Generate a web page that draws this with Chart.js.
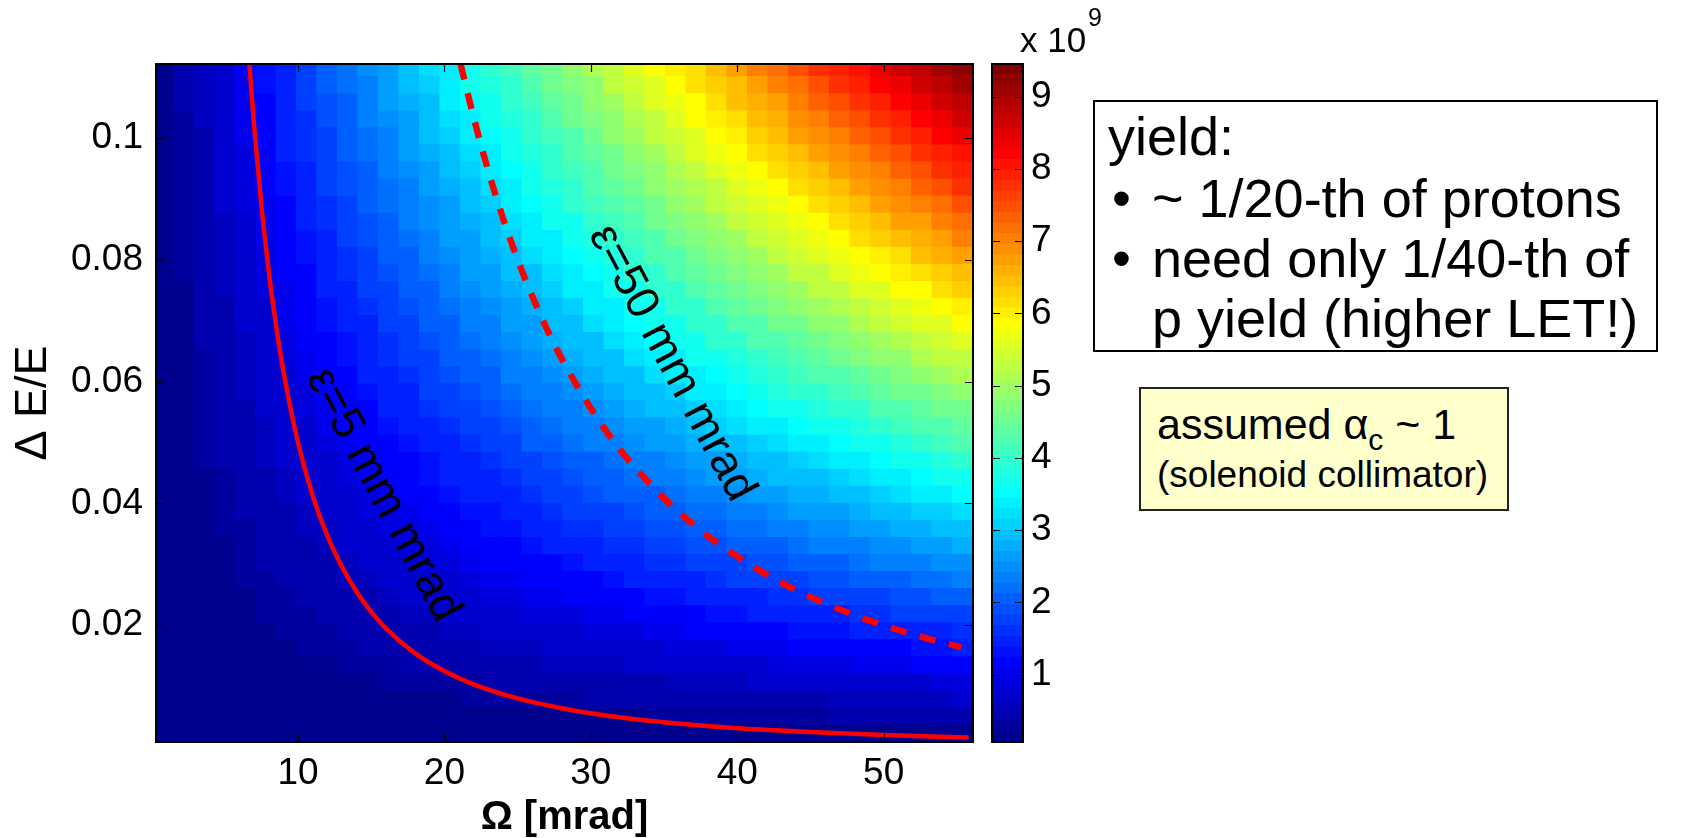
<!DOCTYPE html>
<html>
<head>
<meta charset="utf-8">
<script src="https://cdn.jsdelivr.net/npm/chart.js@4.4.1/dist/chart.umd.min.js"></script>
<style>
html,body{margin:0;padding:0;background:#fff;}
body{width:1688px;height:838px;position:relative;overflow:hidden;font-family:'Liberation Sans',Arial,Helvetica,sans-serif;color:#000;}
canvas{position:absolute;top:0;}
#main{left:0;width:990px;height:838px;}
#cbar{left:960px;width:200px;height:838px;}
.ln{position:absolute;white-space:nowrap;line-height:1;}
.b1{font-size:54px;}
#box1{position:absolute;left:1093px;top:100px;width:565px;height:252px;border:2px solid #000;box-sizing:border-box;}
#box2{position:absolute;left:1139px;top:387px;width:370px;height:124px;border:2px solid #222;box-sizing:border-box;background:#ffffcc;}
</style>
</head>
<body>
<canvas id="main" width="990" height="838"></canvas>
<canvas id="cbar" width="200" height="838"></canvas>

<div class="ln" style="left:1020px;top:22px;font-size:35px;">x 10</div>
<div class="ln" style="left:1088px;top:5px;font-size:25px;">9</div>

<div id="box1"></div>
<div class="ln b1" style="left:1108px;top:109px;">yield:</div>
<div class="ln b1" style="left:1112px;top:171px;">•</div>
<div class="ln b1" style="left:1152px;top:171px;">~ 1/20-th of protons</div>
<div class="ln b1" style="left:1112px;top:231px;">•</div>
<div class="ln b1" style="left:1152px;top:231px;">need only 1/40-th of</div>
<div class="ln b1" style="left:1152px;top:291px;">p yield (higher LET!)</div>

<div id="box2"></div>
<div class="ln" style="left:1157px;top:403px;font-size:43px;">assumed α<span style="font-size:30px;position:relative;top:11px;">c</span> ~ 1</div>
<div class="ln" style="left:1157px;top:456px;font-size:37px;">(solenoid collimator)</div>

<script>
// ---------------- data ----------------
// Heat-map cell centres
const omegaCenters = [0.8,2.2,3.6,5.0,6.4,7.8,9.2,10.6,12.0,13.4,14.8,16.2,17.6,19.0,20.4,21.8,23.2,24.6,26.0,27.4,
  28.8,30.2,31.6,33.0,34.4,35.8,37.2,38.6,40.0,41.4,42.8,44.2,45.6,47.0,48.4,49.8,51.2,52.6,54.0,55.4];
const deltaCenters = [0.0022,0.0050,0.0078,0.0106,0.0134,0.0162,0.0190,0.0218,0.0246,0.0274,0.0302,0.0330,0.0358,0.0386,
  0.0414,0.0442,0.0470,0.0498,0.0526,0.0554,0.0582,0.0610,0.0638,0.0666,0.0694,0.0722,0.0750,0.0778,0.0806,0.0834,
  0.0862,0.0890,0.0918,0.0946,0.0974,0.1002,0.1030,0.1058,0.1086,0.1114];
// Yield per cell, in units of 1e8 (rows from lowest dE/E to highest, columns from lowest Omega to highest)
const yieldE8 = [
 [0,0,0,0,0,0,0,0,0,0, 0,1,1,1,1,1,1,1,1,1, 1,1,1,1,1,1,1,1,1,1, 1,1,2,2,2,2,2,2,2,2],
 [0,0,0,0,0,1,1,1,1,1, 1,1,1,1,2,2,2,2,2,2, 2,2,2,2,3,3,3,3,3,3, 3,3,3,4,4,4,4,4,4,4],
 [0,0,0,1,1,1,1,1,1,2, 2,2,2,2,2,3,3,3,3,3, 3,4,4,4,4,4,4,5,5,5, 5,5,5,6,6,6,6,6,6,7],
 [0,0,1,1,1,1,1,2,2,2, 2,3,3,3,3,3,4,4,4,4, 5,5,5,5,5,6,6,6,6,7, 7,7,7,8,8,8,8,8,9,9],
 [0,0,1,1,1,2,2,2,2,3, 3,3,4,4,4,4,5,5,5,6, 6,6,6,7,7,7,8,8,8,8, 9,9,9,9,10,10,10,11,11,11],
 [0,1,1,1,2,2,2,3,3,3, 4,4,4,5,5,5,6,6,6,7, 7,7,8,8,8,9,9,9,10,10, 10,11,11,11,12,12,12,13,13,14],
 [0,1,1,1,2,2,3,3,3,4, 4,5,5,5,6,6,7,7,7,8, 8,9,9,9,10,10,11,11,11,12, 12,13,13,13,14,14,15,15,15,16],
 [0,1,1,2,2,3,3,3,4,4, 5,5,6,6,7,7,8,8,9,9, 9,10,10,11,11,12,12,13,13,14, 14,15,15,15,16,16,17,17,18,18],
 [0,1,1,2,2,3,3,4,4,5, 5,6,7,7,8,8,9,9,10,10, 11,11,12,12,13,13,14,14,15,15, 16,16,17,17,18,18,19,19,20,21],
 [0,1,1,2,3,3,4,4,5,6, 6,7,7,8,8,9,10,10,11,11, 12,12,13,14,14,15,15,16,17,17, 18,18,19,19,20,21,21,22,22,23],
 [0,1,2,2,3,4,4,5,5,6, 7,7,8,9,9,10,11,11,12,12, 13,14,14,15,16,16,17,18,18,19, 19,20,21,21,22,23,23,24,25,25],
 [0,1,2,2,3,4,5,5,6,7, 7,8,9,9,10,11,12,12,13,14, 14,15,16,16,17,18,19,19,20,21, 21,22,23,23,24,25,25,26,27,28],
 [0,1,2,3,3,4,5,6,6,7, 8,9,9,10,11,12,13,13,14,15, 16,16,17,18,19,19,20,21,22,22, 23,24,25,25,26,27,28,28,29,30],
 [0,1,2,3,4,5,5,6,7,8, 9,9,10,11,12,13,13,14,15,16, 17,18,18,19,20,21,22,22,23,24, 25,26,27,27,28,29,30,31,31,32],
 [0,1,2,3,4,5,6,7,7,8, 9,10,11,12,13,14,14,15,16,17, 18,19,20,21,21,22,23,24,25,26, 27,28,28,29,30,31,32,33,34,35],
 [1,1,2,3,4,5,6,7,8,9, 10,11,12,13,14,15,15,16,17,18, 19,20,21,22,23,24,25,26,27,28, 29,29,30,31,32,33,34,35,36,37],
 [1,2,3,4,5,6,7,8,8,9, 10,11,12,13,14,15,16,17,18,19, 20,21,22,23,24,25,26,27,28,29, 30,31,32,33,34,35,36,37,38,39],
 [1,2,3,4,5,6,7,8,9,10, 11,12,13,14,15,16,17,18,20,21, 22,23,24,25,26,27,28,29,30,31, 32,33,34,35,36,37,38,39,41,42],
 [1,2,3,4,5,6,7,8,10,11, 12,13,14,15,16,17,18,19,21,22, 23,24,25,26,27,28,29,31,32,33, 34,35,36,37,38,39,41,42,43,44],
 [1,2,3,4,5,7,8,9,10,11, 12,14,15,16,17,18,19,21,22,23, 24,25,26,28,29,30,31,32,33,35, 36,37,38,39,40,42,43,44,45,46],
 [1,2,3,4,6,7,8,9,11,12, 13,14,15,17,18,19,20,22,23,24, 25,26,28,29,30,31,33,34,35,36, 38,39,40,41,42,44,45,46,47,49],
 [1,2,3,5,6,7,8,10,11,12, 14,15,16,17,19,20,21,23,24,25, 26,28,29,30,32,33,34,35,37,38, 39,41,42,43,44,46,47,48,50,51],
 [1,2,3,5,6,7,9,10,12,13, 14,16,17,18,20,21,22,24,25,26, 28,29,30,32,33,34,36,37,38,40, 41,42,44,45,47,48,49,51,52,53],
 [1,2,4,5,6,8,9,11,12,13, 15,16,18,19,20,22,23,25,26,28, 29,30,32,33,35,36,37,39,40,42, 43,44,46,47,49,50,51,53,54,56],
 [1,2,4,5,7,8,10,11,13,14, 15,17,18,20,21,23,24,26,27,29, 30,32,33,35,36,37,39,40,42,43, 45,46,48,49,51,52,54,55,56,58],
 [1,2,4,5,7,8,10,12,13,15, 16,18,19,21,22,24,25,27,28,30, 31,33,34,36,37,39,40,42,44,45, 47,48,50,51,53,54,56,57,59,60],
 [1,2,4,6,7,9,10,12,14,15, 17,18,20,21,23,25,26,28,29,31, 33,34,36,37,39,40,42,44,45,47, 48,50,52,53,55,56,58,59,61,63],
 [1,3,4,6,8,9,11,12,14,16, 17,19,21,22,24,26,27,29,30,32, 34,35,37,39,40,42,44,45,47,49, 50,52,53,55,57,58,60,62,63,65],
 [1,3,4,6,8,9,11,13,15,16, 18,20,21,23,25,26,28,30,32,33, 35,37,38,40,42,43,45,47,49,50, 52,54,55,57,59,60,62,64,66,67],
 [1,3,5,6,8,10,12,13,15,17, 19,20,22,24,26,27,29,31,33,34, 36,38,40,41,43,45,47,49,50,52, 54,56,57,59,61,63,64,66,68,70],
 [1,3,5,6,8,10,12,14,16,17, 19,21,23,25,26,28,30,32,34,36, 37,39,41,43,45,47,48,50,52,54, 56,57,59,61,63,65,67,68,70,72],
 [1,3,5,7,9,10,12,14,16,18, 20,22,24,25,27,29,31,33,35,37, 39,41,42,44,46,48,50,52,54,56, 57,59,61,63,65,67,69,71,72,74],
 [1,3,5,7,9,11,13,15,17,19, 20,22,24,26,28,30,32,34,36,38, 40,42,44,46,48,50,51,53,55,57, 59,61,63,65,67,69,71,73,75,77],
 [1,3,5,7,9,11,13,15,17,19, 21,23,25,27,29,31,33,35,37,39, 41,43,45,47,49,51,53,55,57,59, 61,63,65,67,69,71,73,75,77,79],
 [1,3,5,7,9,11,14,16,18,20, 22,24,26,28,30,32,34,36,38,40, 42,44,46,48,50,53,55,57,59,61, 63,65,67,69,71,73,75,77,79,81],
 [1,3,5,8,10,12,14,16,18,20, 22,24,27,29,31,33,35,37,39,41, 43,46,48,50,52,54,56,58,60,63, 65,67,69,71,73,75,77,79,82,84],
 [1,3,6,8,10,12,14,16,19,21, 23,25,27,29,32,34,36,38,40,43, 45,47,49,51,53,56,58,60,62,64, 66,69,71,73,75,77,79,82,84,86],
 [1,4,6,8,10,12,15,17,19,21, 24,26,28,30,33,35,37,39,41,44, 46,48,50,53,55,57,59,62,64,66, 68,70,73,75,77,79,82,84,86,88],
 [1,4,6,8,10,13,15,17,20,22, 24,27,29,31,33,36,38,40,43,45, 47,49,52,54,56,59,61,63,65,68, 70,72,75,77,79,82,84,86,88,91],
 [1,4,6,8,11,13,15,18,20,22, 25,27,30,32,34,37,39,41,44,46, 48,51,53,55,58,60,62,65,67,70, 72,74,77,79,81,84,86,88,91,93]
];
// Emittance curves (Omega [mrad], dE/E)
const eps5Omega = [6.68,7.0,7.5,8.0,8.5,9.0,10,11,12,13,14,15,16,18,20,22,25,28,31,35,40,45,50,55.8];
const eps5Delta = [0.1121,0.102,0.0889,0.0781,0.0692,0.0617,0.05,0.0413,0.0347,0.0296,0.0255,0.0222,0.0195,0.0154,0.0125,0.0103,0.0080,0.0064,0.0052,0.0041,0.0031,0.0025,0.0020,0.0016];
const eps50Omega = [21.1,22,23,24,25,26,27,28,30,32,34,36,38,40,43,46,49,52,55.3];
const eps50Delta = [0.1121,0.1033,0.0945,0.0868,0.080,0.074,0.0686,0.0638,0.0556,0.0488,0.0433,0.0386,0.0346,0.0313,0.0270,0.0236,0.0208,0.0185,0.0164];
const curveLabels = ['ε=5 mm mrad', 'ε=50 mm mrad'];
// Tick labels
const omegaTicks = [10,20,30,40,50];
const deltaTicks = [0.02,0.04,0.06,0.08,0.1];
const colorTicks = [1,2,3,4,5,6,7,8,9];
const colorLimits = [0.07, 9.45];   // x 1e9
const omegaLimits = [0.3, 56.1];
const deltaLimits = [0.00085, 0.1121];

// ---------------- styling / helpers ----------------
const FONT = "'Liberation Sans', Arial, Helvetica, sans-serif";
Chart.defaults.font.family = FONT;
Chart.defaults.color = '#000';

function jet(k){ // MATLAB jet(64)
  const r = k<24?0 : k<40?(k-23)/16 : k<56?1 : 1-(k-55)/16;
  const g = k<8?0 : k<24?(k-7)/16 : k<40?1 : k<56?1-(k-39)/16 : 0;
  const b = k<8?0.5+(k+1)/16 : k<24?1 : k<40?1-(k-23)/16 : 0;
  return 'rgb(' + Math.round(r*255) + ',' + Math.round(g*255) + ',' + Math.round(b*255) + ')';
}
const jet64 = Array.from({length:64}, (_, k) => jet(k));
function colorFor(v){
  let k = Math.floor((v - colorLimits[0]) / (colorLimits[1] - colorLimits[0]) * 64);
  k = Math.max(0, Math.min(63, k));
  return jet64[k];
}

const halfH = (deltaCenters[1] - deltaCenters[0]) / 2;
const heatDatasets = deltaCenters.map((d, j) => ({
  type: 'bar',
  data: omegaCenters.map((om) => ({x: om, y: [d - halfH, d + halfH]})),
  backgroundColor: yieldE8[j].map(v => colorFor(v / 10)),
  borderWidth: 0,
  grouped: false,
  barPercentage: 1,
  categoryPercentage: 1,
  inflateAmount: 0.6,
  clip: 0,
  order: 10
}));

const curveDatasets = [
  {
    type: 'line',
    data: eps5Omega.map((o, i) => ({x: o, y: eps5Delta[i]})),
    borderColor: '#ff0000', borderWidth: 4.5, pointRadius: 0, fill: false,
    cubicInterpolationMode: 'monotone', clip: 0, order: 0
  },
  {
    type: 'line',
    data: eps50Omega.map((o, i) => ({x: o, y: eps50Delta[i]})),
    borderColor: '#ff0000', borderWidth: 6.4, borderDash: [16, 14], borderCapStyle: 'butt',
    pointRadius: 0, fill: false, cubicInterpolationMode: 'monotone', clip: 0, order: 1
  }
];

// label anchors (data coordinates) and rotation
const labelAnchors = [{x: 15.8, y: 0.0414}, {x: 35.5, y: 0.0630}];
const labelAngleDeg = 62;

const framePlugin = {
  id: 'frameTicks',
  afterDraw(chart) {
    const {ctx, chartArea: a} = chart;
    const xs = chart.scales.x, ys = chart.scales.y;
    ctx.save();
    ctx.strokeStyle = '#000';
    ctx.lineWidth = 1.2;
    ctx.beginPath();
    if (xs && xs.options.type === 'linear') {
      omegaTicks.forEach(v => {
        const px = Math.round(xs.getPixelForValue(v)) + 0.5;
        ctx.moveTo(px, a.bottom); ctx.lineTo(px, a.bottom - 8);
        ctx.moveTo(px, a.top); ctx.lineTo(px, a.top + 8);
      });
    }
    const yt = chart.canvas.id === 'main' ? deltaTicks : colorTicks;
    yt.forEach(v => {
      const py = Math.round(ys.getPixelForValue(v)) + 0.5;
      ctx.moveTo(a.left, py); ctx.lineTo(a.left + 8, py);
      ctx.moveTo(a.right, py); ctx.lineTo(a.right - 8, py);
    });
    ctx.stroke();
    ctx.lineWidth = 2;
    ctx.strokeRect(a.left, a.top, a.right - a.left, a.bottom - a.top);
    ctx.restore();
  }
};

const labelPlugin = {
  id: 'curveLabels',
  afterDatasetsDraw(chart) {
    const {ctx} = chart;
    const xs = chart.scales.x, ys = chart.scales.y;
    ctx.save();
    ctx.fillStyle = '#000';
    ctx.font = '46px ' + FONT;
    ctx.textAlign = 'center';
    ctx.textBaseline = 'middle';
    curveLabels.forEach((t, i) => {
      ctx.save();
      ctx.translate(xs.getPixelForValue(labelAnchors[i].x), ys.getPixelForValue(labelAnchors[i].y));
      ctx.rotate(labelAngleDeg * Math.PI / 180);
      ctx.fillText(t, 0, 0);
      ctx.restore();
    });
    ctx.restore();
  }
};

new Chart(document.getElementById('main'), {
  type: 'bar',
  data: {datasets: [...curveDatasets, ...heatDatasets]},
  options: {
    responsive: false,
    animation: false,
    events: [],
    layout: {padding: {left: 0, top: 64, right: 17, bottom: 0}},
    plugins: {legend: {display: false}, tooltip: {enabled: false}},
    scales: {
      x: {
        type: 'linear', min: omegaLimits[0], max: omegaLimits[1], offset: false,
        grid: {display: false, drawTicks: false}, border: {display: false},
        ticks: {font: {size: 37}, color: '#000', padding: 10, autoSkip: false, maxRotation: 0, callback: v => String(v)},
        afterBuildTicks: s => { s.ticks = omegaTicks.map(v => ({value: v})); },
        afterFit: s => { s.height = 96; },
        title: {display: true, text: 'Ω [mrad]', color: '#000', font: {size: 40, weight: 'bold', lineHeight: 1}, padding: {top: 0, bottom: 0}}
      },
      y: {
        type: 'linear', min: deltaLimits[0], max: deltaLimits[1],
        grid: {display: false, drawTicks: false}, border: {display: false},
        ticks: {font: {size: 37}, color: '#000', padding: 13, callback: v => String(v)},
        afterBuildTicks: s => { s.ticks = deltaTicks.map(v => ({value: v})); },
        afterFit: s => { s.width = 156; },
        title: {display: true, text: 'Δ E/E', color: '#000', font: {size: 45, lineHeight: 1}, padding: {top: 11, bottom: 0}}
      }
    }
  },
  plugins: [labelPlugin, framePlugin]
});

// ---------------- colour bar ----------------
const cbStep = (colorLimits[1] - colorLimits[0]) / 64;
new Chart(document.getElementById('cbar'), {
  type: 'bar',
  data: {
    labels: [''],
    datasets: jet64.map((c, k) => ({
      data: [[colorLimits[0] + k * cbStep, colorLimits[0] + (k + 1) * cbStep]],
      backgroundColor: c, borderWidth: 0, grouped: false,
      barPercentage: 1, categoryPercentage: 1, inflateAmount: 0.4
    }))
  },
  options: {
    responsive: false,
    animation: false,
    events: [],
    layout: {padding: {left: 32, top: 64, right: 0, bottom: 96}},
    plugins: {legend: {display: false}, tooltip: {enabled: false}},
    scales: {
      x: {display: false},
      y: {
        position: 'right', min: colorLimits[0], max: colorLimits[1],
        grid: {display: false, drawTicks: false}, border: {display: false},
        ticks: {font: {size: 37}, color: '#000', padding: 8},
        afterBuildTicks: s => { s.ticks = colorTicks.map(v => ({value: v})); },
        afterFit: s => { s.width = 137; }
      }
    }
  },
  plugins: [framePlugin]
});
</script>
</body>
</html>
